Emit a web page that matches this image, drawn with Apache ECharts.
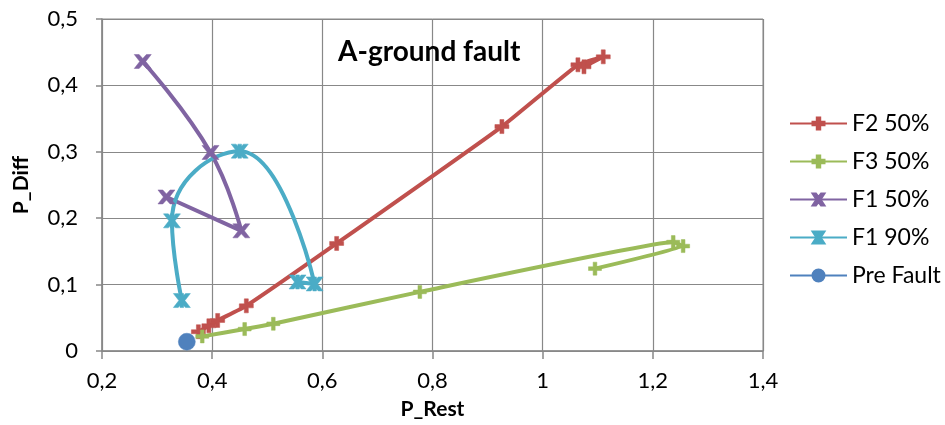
<!DOCTYPE html>
<html>
<head>
<meta charset="utf-8">
<script src="https://cdn.jsdelivr.net/npm/echarts@6/dist/echarts.min.js"></script>
<style>
html,body{margin:0;padding:0;background:#fff;}
#c{width:945px;height:425px;}
</style>
</head>
<body>
<div id="c"></div>
<script>
// ---- data ----
const seriesNames = ['F2 50%', 'F3 50%', 'F1 50%', 'F1 90%', 'Pre Fault'];
const f2X = [0.375, 0.394, 0.410, 0.462, 0.626, 0.926, 1.064, 1.110, 1.075];
const f2Y = [0.029, 0.038, 0.046, 0.068, 0.162, 0.338, 0.431, 0.443, 0.428];
const f3X = [0.382, 0.459, 0.511, 0.777, 1.237, 1.255, 1.095];
const f3Y = [0.022, 0.033, 0.041, 0.089, 0.164, 0.158, 0.124];
const f150X = [0.274, 0.397, 0.453, 0.317];
const f150Y = [0.436, 0.299, 0.181, 0.232];
const f190X = [0.345, 0.327, 0.450, 0.586, 0.555];
const f190Y = [0.076, 0.196, 0.301, 0.101, 0.104];
const preX = [0.354];
const preY = [0.014];
const xTickValues = [0.2, 0.4, 0.6, 0.8, 1.0, 1.2, 1.4];
const xTickLabels = ['0,2', '0,4', '0,6', '0,8', '1', '1,2', '1,4'];
const yTickValues = [0, 0.1, 0.2, 0.3, 0.4, 0.5];
const yTickLabels = ['0', '0,1', '0,2', '0,3', '0,4', '0,5'];
const titleText = 'A-ground fault';
const xName = 'P_Rest';
const yName = 'P_Diff';

// ---- helpers ----
function pairs(xs, ys) { return xs.map((x, i) => [x, ys[i]]); }
function lab(values, labels) {
  return function (v) {
    for (let i = 0; i < values.length; i++) if (Math.abs(values[i] - v) < 1e-6) return labels[i];
    return '';
  };
}
const FONT = 'Lato';
const gridColor = '#888888';
const plusPath = 'path://M5,0H9V5H14V9H9V14H5V9H0V5H5Z';
const xPath = 'path://M0,0H4L7,4L10,0H14L9.5,7L14,14H10L7,10L4,14H0L4.5,7Z';
const starPath = 'path://M0,0H4L5.5,2V0H8.5V2L10,0H14L9.5,7L14,14H10L8.5,12V14H5.5V12L4,14H0L4.5,7Z';

function lineSeries(name, data, color, symbol, size, smooth) {
  return {
    name: name, type: 'line', data: data, smooth: smooth,
    symbol: symbol, symbolSize: size, showAllSymbol: true,
    lineStyle: { color: color, width: 4 },
    itemStyle: { color: color, borderColor: color, borderWidth: 0.5 },
    emphasis: { disabled: true }, animation: false
  };
}

const chart = echarts.init(document.getElementById('c'), null, { renderer: 'canvas' });
chart.setOption({
  animation: false,
  backgroundColor: '#ffffff',
  textStyle: { fontFamily: FONT },
  title: {
    text: titleText, left: 333, top: 33,
    textStyle: { fontFamily: FONT, fontWeight: 'bold', fontSize: 28, color: '#000' }
  },
  grid: { left: 102, right: 182, top: 19, bottom: 72, show: true, borderColor: gridColor, borderWidth: 1 },
  xAxis: {
    type: 'value', min: 0.2, max: 1.4, interval: 0.2,
    name: xName, nameLocation: 'middle', nameGap: 48,
    nameTextStyle: { fontFamily: FONT, fontWeight: 'bold', fontSize: 21, color: '#000' },
    axisLine: { show: true, onZero: false, lineStyle: { color: gridColor, width: 1.5 } },
    axisTick: { show: true, length: 8, lineStyle: { color: gridColor, width: 1.5 } },
    axisLabel: { formatter: lab(xTickValues, xTickLabels), fontFamily: FONT, fontSize: 22, color: '#000', margin: 19 },
    splitLine: { show: true, lineStyle: { color: gridColor, width: 1.2 } }
  },
  yAxis: {
    type: 'value', min: 0, max: 0.5, interval: 0.1,
    name: yName, nameLocation: 'middle', nameGap: 70, nameRotate: 90,
    nameTextStyle: { fontFamily: FONT, fontWeight: 'bold', fontSize: 21, color: '#000' },
    axisLine: { show: true, onZero: false, lineStyle: { color: gridColor, width: 1.5 } },
    axisTick: { show: true, length: 6, lineStyle: { color: gridColor, width: 1.5 } },
    axisLabel: { formatter: lab(yTickValues, yTickLabels), fontFamily: FONT, fontSize: 22, color: '#000', margin: 24 },
    splitLine: { show: true, lineStyle: { color: gridColor, width: 1.2 } }
  },
  legend: {
    orient: 'vertical', left: 784, top: 106,
    itemWidth: 57, itemHeight: 15, itemGap: 13,
    textStyle: { fontFamily: FONT, fontSize: 23, color: '#000', lineHeight: 25 },
    data: seriesNames
  },
  series: [
    lineSeries(seriesNames[0], pairs(f2X, f2Y), '#C0504D', plusPath, [14, 14], 0.12),
    lineSeries(seriesNames[1], pairs(f3X, f3Y), '#9BBB59', plusPath, [13, 13], 0.08),
    lineSeries(seriesNames[2], pairs(f150X, f150Y), '#8064A2', xPath, [17, 14], 0.45),
    lineSeries(seriesNames[3], pairs(f190X, f190Y), '#4BACC6', starPath, [17, 14], 0.5),
    lineSeries(seriesNames[4], pairs(preX, preY), '#4F81BD', 'circle', 17, false)
  ]
});
</script>
</body>
</html>
